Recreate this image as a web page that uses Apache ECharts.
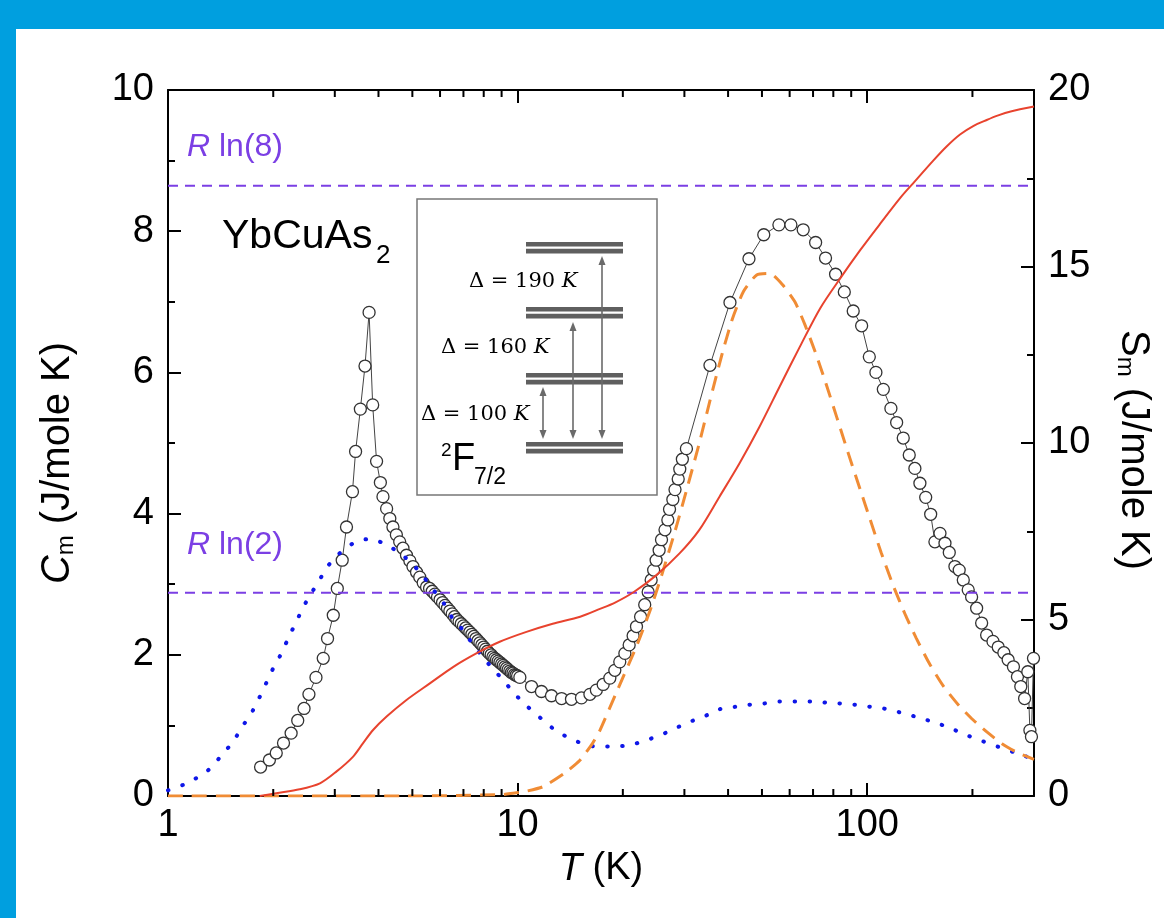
<!DOCTYPE html>
<html><head><meta charset="utf-8">
<script src="https://cdn.jsdelivr.net/npm/echarts@6/dist/echarts.min.js"></script>
<style>html,body{margin:0;padding:0;background:#fff}#c{width:1164px;height:918px}</style>
</head><body><div id="c"></div>
<script>
// ---- measured heat capacity C_m (J/mole K) ----
const cmT = [1.84,1.95,2.04,2.14,2.25,2.35,2.45,2.53,2.65,2.78,2.86,2.97,3.05,3.15,3.24,3.37,3.44,3.55,3.66,3.76,
  3.85,3.95,4.05,4.12,4.22,4.31,4.40,4.50,4.60,4.70,4.81,4.92,5.02,5.14,5.25,5.37,5.49,
  5.6,5.7,5.8,5.9,6.0,6.1,6.2,6.3,6.4,6.5,6.6,6.7,6.8,6.9,7.0,7.1,7.2,7.3,7.4,7.5,7.6,7.7,7.8,7.9,8.0,
  8.1,8.2,8.3,8.4,8.5,8.6,8.7,8.8,8.9,9.0,9.1,9.2,9.3,9.4,9.5,9.6,9.7,9.8,9.9,10.0,10.15,
  10.96,11.7,12.5,13.36,14.26,15.23,16.1,16.8,17.57,18.36,18.97,19.6,20.27,20.85,21.4,21.88,22.48,23.1,23.63,
  24.1,24.5,24.9,25.4,25.8,26.4,26.9,27.2,27.8,28.2,28.8,29.1,29.6,30.4,35.5,40.5,45.9,50.6,55.9,60.5,65.6,
  71.2,76.0,81.2,86.0,91.2,96.4,101.4,105.9,111.2,116.9,121.4,126.8,131.9,136.9,141.5,147,151.9,156.2,161.5,
  166.9,171.7,178.2,183.3,188.3,194.5,198.9,205.6,212.5,219.6,229,237,246,253,262,269,275,282,288,292,295,299];
const cmC = [0.41,0.51,0.61,0.75,0.89,1.07,1.24,1.44,1.68,1.95,2.23,2.56,2.94,3.34,3.81,4.31,4.88,5.48,6.09,6.85,
  5.54,4.74,4.44,4.24,4.07,3.93,3.81,3.70,3.60,3.51,3.41,3.33,3.25,3.17,3.10,3.02,2.96,
  2.94,2.90,2.86,2.82,2.78,2.74,2.70,2.66,2.62,2.58,2.54,2.50,2.47,2.44,2.41,2.38,2.35,2.32,2.29,2.26,2.23,2.20,2.17,2.14,2.11,
  2.08,2.05,2.02,2.00,1.97,1.95,1.93,1.91,1.89,1.87,1.85,1.83,1.81,1.79,1.77,1.75,1.74,1.72,1.71,1.70,1.68,
  1.55,1.48,1.42,1.38,1.37,1.39,1.44,1.50,1.58,1.67,1.78,1.90,2.02,2.14,2.27,2.40,2.54,2.71,2.89,
  3.06,3.20,3.34,3.48,3.63,3.77,3.91,4.06,4.20,4.34,4.49,4.63,4.77,4.92,6.10,6.99,7.61,7.95,8.09,8.09,8.02,
  7.84,7.62,7.39,7.14,6.87,6.66,6.22,6.00,5.76,5.49,5.29,5.07,4.83,4.64,4.43,4.23,3.99,3.60,3.72,
  3.58,3.45,3.25,3.20,3.06,2.92,2.82,2.66,2.45,2.28,2.19,2.11,2.03,1.93,1.83,1.69,1.55,1.38,1.76,0.93,0.84,1.95];

// ---- blue dotted model curve ----
const blueT = [1.0,1.12,1.22,1.32,1.43,1.535,1.63,1.73,1.82,1.91,2.0,2.11,2.22,2.33,2.44,2.57,2.72,2.87,3.1,3.42,3.77,
  4.17,4.6,4.97,5.37,5.74,6.13,6.47,6.9,7.3,7.8,8.4,9.1,9.8,10.6,11.6,12.6,13.8,15.2,16.8,18.7,20.8,23.1,25.1,27.3,
  29.7,32.2,35,37.9,41.5,45.5,50.6,56.2,63.1,70.3,77.1,83.9,93.1,103.3,114,127,140.5,156.5,173,193,213,236,270,300];
const blueC = [0.08,0.17,0.27,0.39,0.59,0.77,0.98,1.17,1.38,1.60,1.81,2.02,2.26,2.47,2.68,2.87,3.07,3.26,3.44,3.59,3.64,
  3.57,3.44,3.30,3.11,2.92,2.74,2.54,2.38,2.21,2.02,1.83,1.64,1.45,1.28,1.11,0.96,0.84,0.75,0.70,0.70,0.72,0.78,0.85,0.92,
  1.01,1.08,1.15,1.23,1.26,1.29,1.31,1.34,1.34,1.34,1.32,1.31,1.29,1.26,1.23,1.17,1.11,1.04,0.96,0.86,0.78,0.70,0.60,0.52];

// ---- orange dashed CEF Schottky curve ----
const orangeT = [1,5,9,9.7,10.4,11.8,13.6,15.1,16.4,17.2,19.1,22.0,23.9,25.8,28.2,30.5,33.1,35.5,38.4,41.1,44.3,48.3,52.7,
  57.3,62.1,66.3,71.6,76.7,81.9,88.2,95.5,101.9,109.6,118.7,129,138,150.5,165,182.4,200.7,220.8,243,270,300];
const orangeC = [0,0,0.02,0.04,0.06,0.13,0.32,0.51,0.75,0.93,1.45,2.15,2.62,3.12,3.75,4.35,5.0,5.6,6.25,6.75,7.15,7.38,7.40,
  7.24,7.00,6.68,6.24,5.80,5.36,4.86,4.34,3.92,3.45,2.98,2.55,2.24,1.88,1.56,1.29,1.08,0.90,0.74,0.61,0.52];

// ---- red entropy S_m (J/mole K), right axis ----
const redT = [1.83,2.04,2.38,2.72,3.03,3.38,3.61,3.86,4.22,4.81,5.61,6.55,7.62,8.89,10.6,12.6,15.1,17.2,19.0,21.5,24.9,
  29.1,33.1,37.8,43.1,49.2,56.2,64.2,73.4,83.8,95.6,109.1,124.5,135.1,154.5,168.7,184.3,201,219.7,237,257.3,300];
const redS = [0,0.08,0.19,0.36,0.69,1.11,1.49,1.87,2.25,2.72,3.19,3.66,4.04,4.37,4.65,4.88,5.08,5.30,5.48,5.78,6.25,
  6.88,7.54,8.48,9.42,10.46,11.6,12.73,13.82,14.67,15.47,16.22,16.95,17.35,18.0,18.40,18.74,18.98,19.15,19.28,19.39,19.53];

// ---- reference entropy levels (right axis) ----
const rln8 = 17.29, rln2 = 5.76;
const limitT = [1, 300];

// ---- axis ticks ----
const xMajorLabels = [1, 10, 100];
const xMinorTicks = [2,3,4,5,6,7,8,9,20,30,40,50,60,70,80,90,200];

const zip = (a, b) => a.map((v, i) => [v, b[i]]);
const FONT = 'Liberation Sans, Arial, sans-serif';

const chart = echarts.init(document.getElementById('c'), null, {renderer: 'canvas'});

const xBase = {
  type: 'log', logBase: 10, min: 1, max: 300,
  axisLine: {show: true, onZero: false, lineStyle: {color: '#000', width: 2}},
  axisTick: {show: true, inside: true, length: 13, lineStyle: {color: '#000', width: 2}},
  splitLine: {show: false}, minorTick: {show: false}, minorSplitLine: {show: false}
};

const option = {
  backgroundColor: '#fff',
  animation: false,
  grid: {left: 168, right: 130, top: 90, bottom: 122, containLabel: false},
  xAxis: [
    Object.assign({}, xBase, {
      position: 'bottom',
      axisLabel: {fontSize: 38, color: '#000', fontFamily: FONT, margin: 11,
        formatter: v => (xMajorLabels.indexOf(Math.round(v)) >= 0 && Math.abs(v - Math.round(v)) < 1e-6) ? String(Math.round(v)) : ''},
      name: '{i|T} (K)', nameLocation: 'middle', nameGap: 54,
      nameTextStyle: {fontSize: 38, color: '#000', fontFamily: FONT,
        rich: {i: {fontStyle: 'italic', fontSize: 38, fontFamily: FONT, color: '#000'}}}
    }),
    Object.assign({}, xBase, {position: 'top', axisLabel: {show: false}})
  ],
  yAxis: [
    {
      type: 'value', min: 0, max: 10, interval: 2, position: 'left',
      axisLine: {show: true, onZero: false, lineStyle: {color: '#000', width: 2}},
      axisTick: {show: true, inside: true, length: 13, lineStyle: {color: '#000', width: 2}},
      minorTick: {show: true, splitNumber: 2, length: 7, lineStyle: {color: '#000', width: 2}},
      splitLine: {show: false},
      axisLabel: {fontSize: 38, color: '#000', fontFamily: FONT, margin: 14},
      name: '{i|C}{sub|m} (J/mole K)', nameLocation: 'middle', nameRotate: 90, nameGap: 110,
      nameTextStyle: {fontSize: 40, color: '#000', fontFamily: FONT, lineHeight: 40, verticalAlign: 'middle',
        padding: [0, 40, 0, 0],
        rich: {
          i: {fontStyle: 'italic', fontSize: 40, fontFamily: FONT, color: '#000', lineHeight: 40, verticalAlign: 'middle'},
          sub: {fontSize: 24, fontFamily: FONT, color: '#000', lineHeight: 10, verticalAlign: 'bottom'}
        }}
    },
    {
      type: 'value', min: 0, max: 20, interval: 5, position: 'right',
      axisLine: {show: true, onZero: false, lineStyle: {color: '#000', width: 2}},
      axisTick: {show: true, inside: true, length: 13, lineStyle: {color: '#000', width: 2}},
      minorTick: {show: true, splitNumber: 2, length: 7, lineStyle: {color: '#000', width: 2}},
      splitLine: {show: false},
      axisLabel: {fontSize: 38, color: '#000', fontFamily: FONT, margin: 14},
      name: 'S{sub|m} (J/mole K)', nameLocation: 'middle', nameRotate: -90, nameGap: 99,
      nameTextStyle: {fontSize: 40, color: '#000', fontFamily: FONT, lineHeight: 40, verticalAlign: 'middle',
        padding: [0, 0, 0, 14],
        rich: {
          sub: {fontSize: 24, fontFamily: FONT, color: '#000', lineHeight: 10, verticalAlign: 'bottom'}
        }}
    }
  ],
  series: [
    {
      name: 'Rln8', type: 'line', xAxisIndex: 0, yAxisIndex: 1, data: limitT.map(t => [t, rln8]),
      symbol: 'none', silent: true, z: 3,
      lineStyle: {color: '#7b3fe4', width: 2, type: [10, 7]}
    },
    {
      name: 'Rln2', type: 'line', xAxisIndex: 0, yAxisIndex: 1, data: limitT.map(t => [t, rln2]),
      symbol: 'none', silent: true, z: 3,
      lineStyle: {color: '#7b3fe4', width: 2, type: [10, 7]}
    },
    {
      name: 'Cm', type: 'line', xAxisIndex: 0, yAxisIndex: 0, data: zip(cmT, cmC),
      symbol: 'circle', symbolSize: 12, showSymbol: true, showAllSymbol: true, z: 2,
      itemStyle: {color: '#fff', borderColor: '#333', borderWidth: 1.3},
      lineStyle: {color: '#444', width: 1}
    },
    {
      name: 'blue', type: 'line', xAxisIndex: 0, yAxisIndex: 0, data: zip(blueT, blueC),
      symbol: 'none', smooth: 0.3, z: 4,
      lineStyle: {color: '#0f17e8', width: 4, type: [0.5, 14.5], cap: 'round'}
    },
    {
      name: 'orange', type: 'line', xAxisIndex: 0, yAxisIndex: 0, data: zip(orangeT, orangeC),
      symbol: 'none', smooth: 0.2, z: 4,
      lineStyle: {color: '#f08c35', width: 3, type: [15, 9]}
    },
    {
      name: 'red', type: 'line', xAxisIndex: 0, yAxisIndex: 1, data: zip(redT, redS),
      symbol: 'none', smooth: 0.3, z: 5,
      lineStyle: {color: '#e8432e', width: 2}
    },
    {
      name: 'minorTicks', type: 'custom', xAxisIndex: 0, yAxisIndex: 0, silent: true, clip: false, z: 6,
      data: xMinorTicks.map(v => [v, 0]), encode: {x: 0, y: 1},
      renderItem: (params, api) => {
        const v = api.value(0);
        const b = api.coord([v, 0]);
        const t = api.coord([v, 10]);
        const st = {stroke: '#000', lineWidth: 2};
        return {type: 'group', children: [
          {type: 'line', shape: {x1: b[0], y1: b[1], x2: b[0], y2: b[1] - 7}, style: st},
          {type: 'line', shape: {x1: t[0], y1: t[1], x2: t[0], y2: t[1] + 7}, style: st}
        ]};
      }
    }
  ],
  graphic: {elements: [
    {type: 'rect', shape: {x: 0, y: 0, width: 1164, height: 29}, style: {fill: '#009fdf'}, z: 100},
    {type: 'rect', shape: {x: 0, y: 0, width: 16, height: 918}, style: {fill: '#009fdf'}, z: 100},
    {type: 'text', left: 187, top: 131, z: 50,
      style: {text: '{i|R} ln(8)', fontSize: 32, fontFamily: FONT, fill: '#7b3fe4',
        rich: {i: {fontStyle: 'italic', fontSize: 32, fontFamily: FONT, fill: '#7b3fe4'}}}},
    {type: 'text', left: 187, top: 529, z: 50,
      style: {text: '{i|R} ln(2)', fontSize: 32, fontFamily: FONT, fill: '#7b3fe4',
        rich: {i: {fontStyle: 'italic', fontSize: 32, fontFamily: FONT, fill: '#7b3fe4'}}}},
    {type: 'text', x: 222, y: 237, z: 50,
      style: {text: 'YbCuAs', fontSize: 41, fontFamily: FONT, fill: '#000', verticalAlign: 'middle', align: 'left'}},
    {type: 'text', x: 376, y: 256, z: 50,
      style: {text: '2', fontSize: 26, fontFamily: FONT, fill: '#000', verticalAlign: 'middle', align: 'left'}},
    // inset box
    {type: 'group', z: 40, children: [
      {type: 'rect', shape: {x: 417, y: 199, width: 240, height: 296}, style: {fill: '#fff', stroke: '#777', lineWidth: 1.5}},
      ...[248, 313, 379, 448].flatMap(cy => [
        {type: 'rect', shape: {x: 526, y: cy - 6, width: 97, height: 4.6}, style: {fill: '#5f5f5f'}},
        {type: 'rect', shape: {x: 526, y: cy + 0.8, width: 97, height: 4.6}, style: {fill: '#5f5f5f'}}
      ]),
      ...[[543, 387, 439], [573, 322, 439], [602, 256, 439]].flatMap(([ax, y1, y2]) => [
        {type: 'line', shape: {x1: ax, y1: y1 + 4, x2: ax, y2: y2 - 4}, style: {stroke: '#6a6a6a', lineWidth: 1.6}},
        {type: 'polygon', shape: {points: [[ax, y1], [ax - 3.5, y1 + 9], [ax + 3.5, y1 + 9]]}, style: {fill: '#6a6a6a'}},
        {type: 'polygon', shape: {points: [[ax, y2], [ax - 3.5, y2 - 9], [ax + 3.5, y2 - 9]]}, style: {fill: '#6a6a6a'}}
      ]),
      {type: 'text', x: 469, y: 282, style: {text: 'Δ = 190 {k|K}', fontSize: 21, fontFamily: 'DejaVu Serif', fill: '#000', verticalAlign: 'middle',
        rich: {k: {fontStyle: 'italic', fontSize: 21, fontFamily: 'DejaVu Serif', fill: '#000'}}}},
      {type: 'text', x: 441, y: 348, style: {text: 'Δ = 160 {k|K}', fontSize: 21, fontFamily: 'DejaVu Serif', fill: '#000', verticalAlign: 'middle',
        rich: {k: {fontStyle: 'italic', fontSize: 21, fontFamily: 'DejaVu Serif', fill: '#000'}}}},
      {type: 'text', x: 421, y: 415, style: {text: 'Δ = 100 {k|K}', fontSize: 21, fontFamily: 'DejaVu Serif', fill: '#000', verticalAlign: 'middle',
        rich: {k: {fontStyle: 'italic', fontSize: 21, fontFamily: 'DejaVu Serif', fill: '#000'}}}},
      {type: 'text', x: 441, y: 451, style: {text: '2', fontSize: 19, fontFamily: FONT, fill: '#000', verticalAlign: 'middle'}},
      {type: 'text', x: 452, y: 460, style: {text: 'F', fontSize: 38, fontFamily: FONT, fill: '#000', verticalAlign: 'middle'}},
      {type: 'text', x: 474, y: 478, style: {text: '7/2', fontSize: 23, fontFamily: FONT, fill: '#000', verticalAlign: 'middle'}}
    ]}
  ]}
};
chart.setOption(option);
</script>
</body></html>
